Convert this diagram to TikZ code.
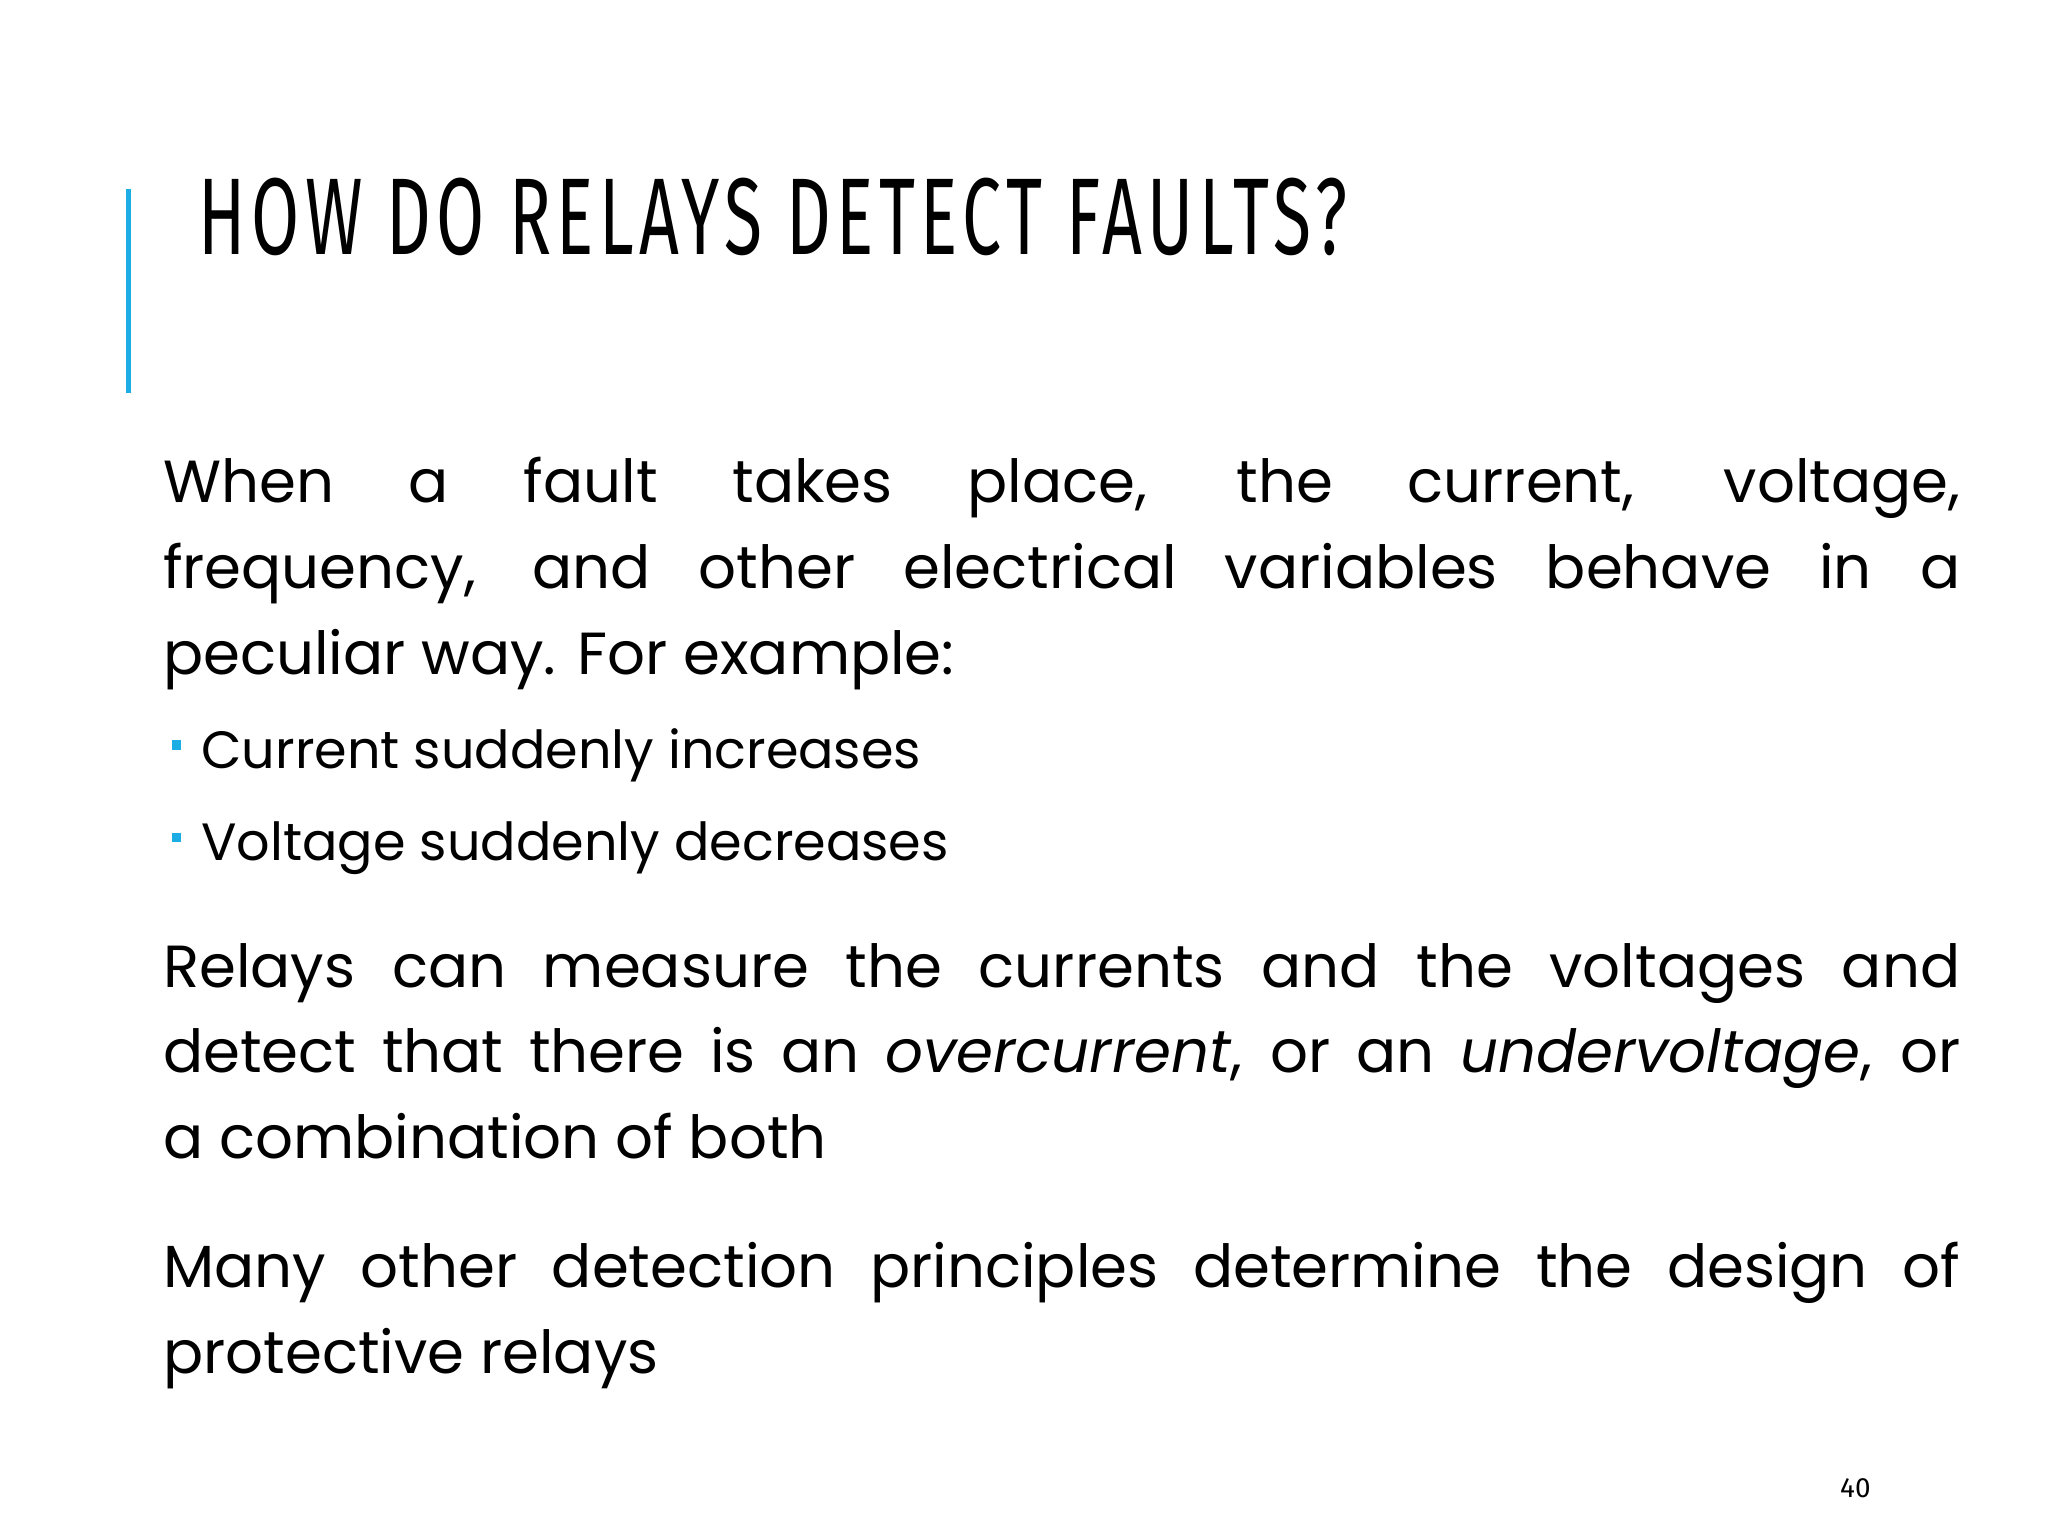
\documentclass[tikz,border=0pt]{standalone}
\usepackage{fontspec}
\setmainfont{Poppins}
\newfontfamily\titlefont{Fira Sans}
\definecolor{accent}{HTML}{1CADE4}
\begin{document}
\begin{tikzpicture}[x=0.01cm,y=-0.01cm,
  para/.style={anchor=base west,inner sep=0,text width=13.61cm,align=justify,font=\fontsize{12.8pt}{18.5pt}\selectfont},
  bul/.style={anchor=base west,inner sep=0,font=\fontsize{11.3pt}{14pt}\selectfont}]
\useasboundingbox (0,0) rectangle (1552,1164);
\fill[white] (0,0) rectangle (1552,1164);
\fill[accent] (95.5,143) rectangle (99.5,298);
\node[anchor=base west,inner sep=0,xscale=0.638,font=\titlefont\fontsize{23.5pt}{24pt}\selectfont] (title) at (150,193) {\addfontfeatures{LetterSpace=8}HOW DO RELAYS DETECT FAULTS?};
\node[para] (p1) at (123,381) {When a fault takes place, the current, voltage,\linebreak frequency, and other electrical variables behave in a\linebreak peculiar way. For example:};
\fill[accent] (130,561) rectangle (137,568) coordinate (b1);
\node[bul] (t1) at (152,582) {Current suddenly increases};
\fill[accent] (130,631) rectangle (137,638) coordinate (b2);
\node[bul] (t2) at (152,652) {Voltage suddenly decreases};
\node[para] (p2) at (123,748) {Relays can measure the currents and the voltages and\linebreak detect that there is an \textit{overcurrent}, or an \textit{undervoltage}, or\linebreak a combination of both};
\node[para] (p3) at (123,976) {Many other detection principles determine the design of\linebreak protective relays};
\node[anchor=base,inner sep=0,font=\titlefont\fontsize{6pt}{7pt}\selectfont] (pg) at (1406,1135) {40};
\end{tikzpicture}
\end{document}
